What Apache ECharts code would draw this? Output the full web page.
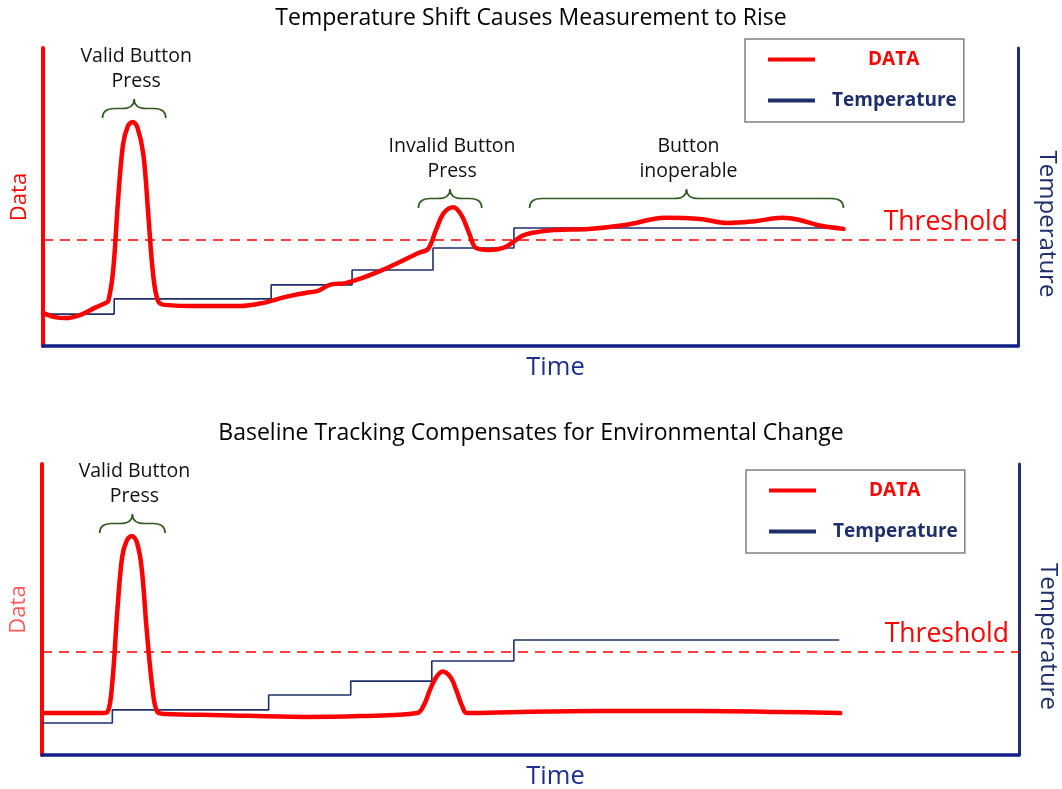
<!DOCTYPE html>
<html>
<head>
<meta charset="utf-8">
<title>Baseline tracking</title>
<script src="https://cdn.jsdelivr.net/npm/echarts@6/dist/echarts.min.js"></script>
<style>
  html, body { margin: 0; padding: 0; background: #fff; }
  #main { width: 1062px; height: 789px; }
</style>
</head>
<body>
<div id="main"></div>
<script>
// chart titles
var titles = [
  "Temperature Shift Causes Measurement to Rise",
  "Baseline Tracking Compensates for Environmental Change"
];

// top chart, [time, value] (arbitrary units 0-100)
var dataTop = [
  [0, 11.1], [1.2, 9.7], [2.3, 9.4], [3.8, 10.4], [5.3, 12.8], [6.4, 14.4],
  [6.7, 15.1], [7.2, 25.5], [7.7, 49.0], [8.2, 67.4], [8.7, 73.8], [9.2, 75.2],
  [9.7, 73.2], [10.3, 64.1], [10.8, 44.0], [11.3, 23.8], [11.8, 15.1], [12.5, 13.8],
  [16.1, 13.4], [20.2, 13.4], [22.5, 14.4], [24.8, 16.4], [26.9, 17.8], [28.2, 18.5],
  [29.4, 20.5], [31.0, 21.1], [32.7, 22.8], [34.6, 25.2], [36.6, 28.2], [38.5, 31.2],
  [39.5, 32.6], [40.3, 38.9], [41.1, 44.6], [42.1, 46.6], [42.9, 44.0], [43.7, 37.9],
  [44.4, 32.9], [45.8, 32.2], [47.2, 32.9], [48.1, 34.6], [49.1, 36.9], [50.1, 37.9],
  [52.4, 38.9], [56.0, 39.3], [59.7, 40.6], [63.8, 43.0], [67.4, 42.6], [70.2, 41.3],
  [73.0, 41.9], [75.8, 43.0], [77.6, 42.3], [79.4, 40.6], [82.1, 39.3]
];
var tempTop = [
  [0, 10.7], [7.3, 15.8], [23.4, 20.5], [31.7, 25.5], [40.0, 32.9], [48.3, 39.6], [81.7, 39.6]
];

// bottom chart
var dataBottom = [
  [0, 14.4], [3.0, 14.4], [6.0, 14.4], [6.7, 14.8], [7.2, 25.1], [7.7, 49.1],
  [8.2, 68.0], [8.7, 73.9], [9.2, 75.3], [9.7, 73.2], [10.2, 64.3], [10.7, 43.6],
  [11.3, 23.0], [11.8, 14.8], [12.6, 14.1], [18.2, 13.7], [26.7, 13.1], [32.5, 13.4],
  [38.4, 14.4], [39.1, 17.2], [39.7, 22.3], [40.3, 26.5], [41.0, 28.7], [41.8, 26.8],
  [42.4, 22.3], [43.0, 16.8], [43.5, 14.4], [48.9, 14.8], [57.1, 15.1], [67.3, 15.1],
  [75.5, 14.8], [81.7, 14.4]
];
var tempBottom = [
  [0, 11.0], [7.2, 15.5], [23.2, 20.6], [31.6, 25.4], [39.9, 32.3], [48.3, 39.5], [81.6, 39.5]
];

var threshold = [35.6, 35.4];

// braces: [from, to, y of the tips]
var notesTop = [[6.1, 12.6, 76.5], [38.5, 45.0, 46.3], [49.9, 82.1, 46.3]];
var notesTopText = ["Valid Button\nPress", "Invalid Button\nPress", "Button\ninoperable"];
var notesBottom = [[5.9, 12.6, 76.3]];
var notesBottomText = ["Valid Button\nPress"];

var FONT = '"Open Sans", "DejaVu Sans", sans-serif';
var RED = "#ff0000";
var NAVY = "#1f2f6b";
var AXIS_BLUE = "#0f1f86";

function braceRenderer(texts) {
  return function (params, api) {
    var p0 = api.coord([api.value(0), api.value(2)]);
    var p1 = api.coord([api.value(1), api.value(2)]);
    var xl = p0[0], xr = p1[0], yb = p0[1];
    var xm = (xl + xr) / 2;
    var h = 19;
    var r = Math.min(12, (xr - xl) / 5);
    var ym = yb - h / 2;
    var d = "M" + xl + " " + yb +
      " Q" + xl + " " + ym + " " + (xl + r) + " " + ym +
      " L" + (xm - r) + " " + ym +
      " Q" + xm + " " + ym + " " + xm + " " + (yb - h) +
      " Q" + xm + " " + ym + " " + (xm + r) + " " + ym +
      " L" + (xr - r) + " " + ym +
      " Q" + xr + " " + ym + " " + xr + " " + yb;
    return {
      type: "group",
      children: [
        {
          type: "path",
          shape: { pathData: d },
          style: { fill: "none", stroke: "#2f5a1f", lineWidth: 1.6 }
        },
        {
          type: "text",
          x: xm + 2,
          y: yb - h - 5,
          style: {
            text: texts[params.dataIndex],
            align: "center",
            verticalAlign: "bottom",
            fill: "#111",
            fontSize: 19.5,
            fontFamily: FONT,
            lineHeight: 25
          }
        }
      ]
    };
  };
}

function makeLegend(left, top) {
  return {
    left: left,
    top: top,
    orient: "vertical",
    icon: "rect",
    itemWidth: 47,
    itemHeight: 4,
    itemGap: 20,
    padding: [10, 7, 11, 23],
    borderColor: "#808080",
    borderWidth: 1.5,
    selectedMode: false,
    textStyle: { fontFamily: FONT, fontSize: 19, fontWeight: "bold", lineHeight: 21 },
    data: [
      { name: "DATA", textStyle: { color: RED, padding: [0, 0, 0, 48] } },
      { name: "Temperature", textStyle: { color: NAVY, padding: [0, 0, 0, 12] } }
    ]
  };
}

function xAx(gi) {
  return {
    type: "value", gridIndex: gi, min: 0, max: 100,
    name: "Time", nameLocation: "middle", nameGap: 9,
    nameTextStyle: { color: "#1f2f8f", fontSize: 25.5, fontFamily: FONT, padding: [0, 0, 0, 50] },
    axisLine: { show: true, lineStyle: { color: AXIS_BLUE, width: 3.5 } },
    axisTick: { show: false }, axisLabel: { show: false }, splitLine: { show: false }
  };
}

function yLeft(gi, col) {
  return {
    type: "value", gridIndex: gi, min: 0, max: 100,
    name: "Data", nameLocation: "middle", nameGap: 12,
    nameTextStyle: { color: col, fontSize: 22, fontFamily: FONT },
    axisLine: { show: true, lineStyle: { color: RED, width: 4 } },
    axisTick: { show: false }, axisLabel: { show: false }, splitLine: { show: false }
  };
}

function yRight(gi) {
  return {
    type: "value", gridIndex: gi, min: 0, max: 100, position: "right",
    name: "Temperature", nameLocation: "middle", nameGap: 17, nameRotate: -90,
    nameTextStyle: { color: NAVY, fontSize: 24, fontFamily: FONT, padding: [0, 0, 0, 54] },
    axisLine: { show: true, lineStyle: { color: NAVY, width: 3 } },
    axisTick: { show: false }, axisLabel: { show: false }, splitLine: { show: false }
  };
}

function thresholdLine(v) {
  return {
    silent: true,
    symbol: "none",
    lineStyle: { color: RED, type: [10, 7], width: 1.5 },
    label: {
      show: true, position: "insideEndTop", formatter: "Threshold",
      color: RED, fontSize: 26.5, fontFamily: FONT, distance: [10, 4]
    },
    data: [{ yAxis: v }]
  };
}

var myChart = echarts.init(document.getElementById("main"));

var option = {
  animation: false,
  backgroundColor: "#fff",
  title: [
    { text: titles[0], left: "center", top: 7, padding: 0,
      textStyle: { fontFamily: FONT, fontSize: 23, fontWeight: "normal", color: "#000" } },
    { text: titles[1], left: "center", top: 422, padding: 0,
      textStyle: { fontFamily: FONT, fontSize: 23, fontWeight: "normal", color: "#000" } }
  ],
  legend: [makeLegend(745, 39), makeLegend(746, 470)],
  grid: [
    { left: 43, top: 48, width: 975, height: 298, outerBoundsMode: "none" },
    { left: 42, top: 464, width: 977, height: 291, outerBoundsMode: "none" }
  ],
  xAxis: [xAx(0), xAx(1)],
  yAxis: [yLeft(0, RED), yRight(0), yLeft(1, "#ff5a5a"), yRight(1)],
  series: [
    {
      name: "Temperature", type: "line", step: "end",
      xAxisIndex: 0, yAxisIndex: 1, data: tempTop,
      showSymbol: false, symbol: "none",
      lineStyle: { color: NAVY, width: 1.6 }, itemStyle: { color: NAVY }
    },
    {
      name: "DATA", type: "line", smooth: 0.35,
      xAxisIndex: 0, yAxisIndex: 0, data: dataTop,
      showSymbol: false, symbol: "none",
      lineStyle: { color: RED, width: 4.5, cap: "round" }, itemStyle: { color: RED },
      markLine: thresholdLine(threshold[0])
    },
    {
      name: "Temperature", type: "line", step: "end",
      xAxisIndex: 1, yAxisIndex: 3, data: tempBottom,
      showSymbol: false, symbol: "none",
      lineStyle: { color: NAVY, width: 1.6 }, itemStyle: { color: NAVY }
    },
    {
      name: "DATA", type: "line", smooth: 0.35,
      xAxisIndex: 1, yAxisIndex: 2, data: dataBottom,
      showSymbol: false, symbol: "none",
      lineStyle: { color: RED, width: 4.5, cap: "round" }, itemStyle: { color: RED },
      markLine: thresholdLine(threshold[1])
    },
    {
      type: "custom", xAxisIndex: 0, yAxisIndex: 0, silent: true, clip: false,
      renderItem: braceRenderer(notesTopText), data: notesTop,
      encode: { x: [0, 1], y: 2 }
    },
    {
      type: "custom", xAxisIndex: 1, yAxisIndex: 2, silent: true, clip: false,
      renderItem: braceRenderer(notesBottomText), data: notesBottom,
      encode: { x: [0, 1], y: 2 }
    }
  ]
};
myChart.setOption(option);
</script>
</body>
</html>
